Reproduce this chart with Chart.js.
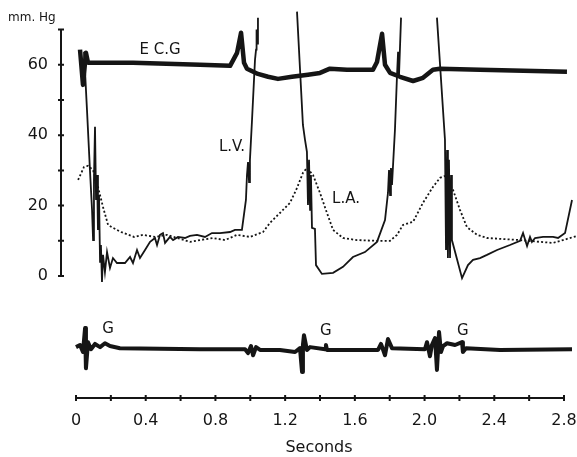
<!DOCTYPE html>
<html lang="en">
  <head>
    <meta charset="utf-8" />
    <title>Left heart pressures with ECG</title>
    <style>
      * {
        margin: 0;
        padding: 0;
      }
      body {
        background: white;
      }
    </style>
  </head>
  <body>
    <canvas id="myChart" width="577" height="457"></canvas>

    <script src="https://cdn.jsdelivr.net/npm/chart.js@4.4.1/dist/chart.umd.min.js"></script>

    <script>
      // time in seconds, pressure in mm Hg
      const ecgTime = [0.023, 0.040, 0.057, 0.069, 0.327, 0.711, 0.884, 0.924, 0.947, 0.964, 0.981, 1.044, 1.102, 1.159, 1.239, 1.331, 1.400, 1.457, 1.555, 1.704, 1.727, 1.756, 1.773, 1.802, 1.859, 1.934, 1.991, 2.048, 2.088, 2.318, 2.817];
      const ecgMmHg = [64.3, 54.3, 63.4, 60.6, 60.6, 60.0, 59.7, 63.4, 69.1, 60.6, 58.9, 57.4, 56.6, 56.0, 56.6, 57.2, 57.7, 58.9, 58.6, 58.6, 60.8, 68.8, 60.0, 57.7, 56.6, 55.4, 56.3, 58.6, 58.9, 58.6, 58.0];

      const lvTime = [
        0.046, 0.063, 0.080, 0.092, 0.098, 0.103, 0.109, 0.115, 0.121, 0.126, 0.132, 0.138, 0.143, 0.149, 0.155, 0.166, 0.178, 0.195, 0.212, 0.235, 0.281, 0.310, 0.327, 0.350, 0.367, 0.396, 0.425, 0.453, 0.465, 0.482, 0.499, 0.511, 0.539, 0.557, 0.585, 0.625, 0.654, 0.694, 0.740, 0.780, 0.826, 0.884, 0.912, 0.952, 0.975, 0.981, 0.987, 0.993, 0.998, 1.010, 1.027, 1.033, 1.036, 1.039, 1.044,
        1.150,
        1.268, 1.302, 1.314, 1.325, 1.331, 1.337, 1.343, 1.348, 1.354, 1.371, 1.377, 1.411, 1.475, 1.532, 1.589, 1.658, 1.727, 1.773, 1.790, 1.796, 1.802, 1.807, 1.813, 1.830, 1.842, 1.848, 1.853, 1.865,
        1.970,
        2.071, 2.117, 2.123, 2.129, 2.134, 2.140, 2.146, 2.152, 2.157, 2.215, 2.249, 2.278, 2.318, 2.358, 2.416, 2.490, 2.548, 2.565, 2.588, 2.605, 2.616, 2.634, 2.680, 2.737, 2.766, 2.806, 2.846,
      ];
      const lvMmHg = [
        63.7, 47.2, 30.1, 18.8, 10.2, 27.3, 42.4, 21.6, 28.7, 13.1, 23.0, 4.0, 8.8, -1.7, 6.0, 1.1, 6.8, 2.3, 5.1, 3.7, 3.7, 5.4, 3.7, 7.4, 5.1, 7.4, 9.7, 10.8, 8.8, 11.7, 12.2, 9.4, 11.1, 10.2, 11.1, 10.8, 11.4, 11.7, 11.1, 12.2, 12.2, 12.5, 13.1, 13.1, 21.6, 28.7, 32.4, 26.7, 33.0, 44.4, 61.4, 64.3, 70.0, 66.0, 73.4,
        null,
        75.1, 42.9, 38.7, 35.3, 20.2, 33.0, 18.8, 28.7, 13.7, 13.4, 3.1, 0.6, 0.9, 2.6, 5.4, 6.8, 9.7, 15.9, 23.6, 30.1, 23.0, 30.7, 25.9, 41.5, 57.2, 63.7, 56.6, 73.4,
        null,
        73.4, 38.7, 7.4, 35.8, 5.1, 33.0, 5.1, 28.7, 10.2, -0.6, 3.1, 4.6, 5.1, 6.0, 7.4, 8.8, 10.0, 12.2, 8.5, 11.1, 9.7, 10.8, 11.1, 11.1, 10.8, 12.2, 21.6,
      ];

      const laTime = [0.012, 0.046, 0.069, 0.098, 0.126, 0.155, 0.184, 0.212, 0.258, 0.333, 0.384, 0.453, 0.522, 0.580, 0.654, 0.711, 0.786, 0.855, 0.924, 0.998, 1.073, 1.113, 1.170, 1.228, 1.268, 1.302, 1.325, 1.360, 1.400, 1.440, 1.475, 1.532, 1.612, 1.727, 1.802, 1.842, 1.876, 1.934, 1.991, 2.048, 2.089, 2.117, 2.163, 2.203, 2.243, 2.301, 2.358, 2.450, 2.548, 2.662, 2.737, 2.794, 2.875];
      const laMmHg = [27.3, 31.0, 31.3, 30.1, 25.3, 19.6, 14.5, 13.7, 12.5, 11.1, 11.7, 11.1, 11.7, 10.8, 9.7, 10.2, 10.8, 10.2, 11.7, 11.1, 12.5, 15.1, 17.9, 20.8, 25.0, 29.3, 30.7, 28.7, 23.6, 17.9, 13.1, 10.8, 10.2, 10.0, 10.0, 11.7, 14.5, 15.4, 20.8, 25.3, 27.9, 28.4, 24.5, 18.8, 13.9, 11.7, 10.8, 10.5, 10.2, 9.7, 9.4, 10.2, 11.4];

      // galvanometer trace, drawn below the pressure scale
      const gTime = [0.000, 0.023, 0.040, 0.052, 0.057, 0.069, 0.086, 0.109, 0.138, 0.166, 0.195, 0.252, 0.711, 0.970, 0.987, 1.004, 1.016, 1.033, 1.056, 1.170, 1.257, 1.285, 1.297, 1.302, 1.308, 1.325, 1.343, 1.429, 1.434, 1.440, 1.733, 1.750, 1.773, 1.790, 1.813, 2.002, 2.014, 2.031, 2.042, 2.060, 2.071, 2.083, 2.094, 2.106, 2.129, 2.175, 2.215, 2.220, 2.238, 2.433, 2.846];
      const gTrace = [-20.2, -19.6, -21.6, -14.8, -26.2, -18.8, -20.8, -19.3, -20.2, -19.1, -19.9, -20.5, -20.8, -20.8, -21.9, -19.9, -22.5, -20.2, -21.0, -21.0, -21.6, -20.5, -27.3, -19.6, -16.8, -21.0, -20.2, -20.8, -19.6, -21.0, -21.0, -19.3, -22.5, -17.9, -20.5, -20.8, -18.8, -22.8, -19.6, -17.6, -26.7, -15.9, -21.6, -19.9, -19.1, -19.6, -18.8, -21.6, -20.5, -21.0, -20.8];

      const xTickLabels = [0, 0.4, 0.8, 1.2, 1.6, 2.0, 2.4, 2.8];
      const xMinorTicks = [0, 0.2, 0.4, 0.6, 0.8, 1.0, 1.2, 1.4, 1.6, 1.8, 2.0, 2.2, 2.4, 2.6, 2.8];
      const yTickLabels = [0, 20, 40, 60];
      const yMinorTicks = [0, 10, 20, 30, 40, 50, 60, 70];

      const traceLabels = [
        { text: "E C.G", t: 0.482, v: 64.3 },
        { text: "L.V.", t: 0.895, v: 36.7 },
        { text: "L.A.", t: 1.549, v: 21.9 },
        { text: "G", t: 0.184, v: -15.1 },
        { text: "G", t: 1.434, v: -15.6 },
        { text: "G", t: 2.22, v: -15.6 },
      ];

      const toPoints = (times, values) =>
        times.map((t, i) => ({ x: t, y: values[i] }));

      const ink = "#151515";
      const font = "DejaVu Sans";

      const data = {
        datasets: [
          {
            label: "ECG",
            data: toPoints(ecgTime, ecgMmHg),
            borderColor: ink,
            borderWidth: 4.5,
            borderJoinStyle: "round",
          },
          {
            label: "L.V.",
            data: toPoints(lvTime, lvMmHg),
            borderColor: ink,
            borderWidth: 1.8,
          },
          {
            label: "L.A.",
            data: toPoints(laTime, laMmHg),
            borderColor: ink,
            borderWidth: 1.8,
            borderDash: [2, 2.2],
          },
          {
            label: "G",
            data: toPoints(gTime, gTrace),
            borderColor: ink,
            borderWidth: 4,
            borderJoinStyle: "round",
          },
        ],
      };

      const paperAxes = {
        id: "paperAxes",
        beforeDatasetsDraw(chart) {
          const { ctx, scales } = chart;
          const { x, y } = scales;
          const yAxisX = chart.chartArea.left;
          const xAxisY = chart.chartArea.bottom;
          ctx.save();
          ctx.strokeStyle = ink;
          ctx.lineWidth = 2;
          ctx.beginPath();
          ctx.moveTo(yAxisX, y.getPixelForValue(0));
          ctx.lineTo(yAxisX, y.getPixelForValue(70));
          yMinorTicks.forEach((v) => {
            const py = y.getPixelForValue(v);
            ctx.moveTo(yAxisX - 3, py);
            ctx.lineTo(yAxisX + 3, py);
          });
          ctx.moveTo(x.getPixelForValue(0), xAxisY - 1);
          ctx.lineTo(x.getPixelForValue(2.8), xAxisY - 1);
          xMinorTicks.forEach((t) => {
            const px = x.getPixelForValue(t);
            ctx.moveTo(px, xAxisY - 4);
            ctx.lineTo(px, xAxisY + 2);
          });
          ctx.stroke();

          ctx.fillStyle = ink;
          ctx.font = "12px " + font;
          ctx.textAlign = "left";
          ctx.textBaseline = "middle";
          ctx.fillText("mm. Hg", 8, 18);

          ctx.font = "15px " + font;
          ctx.textAlign = "center";
          traceLabels.forEach((l) => {
            ctx.fillText(l.text, x.getPixelForValue(l.t), y.getPixelForValue(l.v));
          });
          ctx.restore();
        },
      };

      const config = {
        type: "line",
        data: data,
        options: {
          responsive: false,
          animation: false,
          layout: { padding: 0 },
          elements: {
            point: { radius: 0 },
            line: { tension: 0, borderCapStyle: "butt" },
          },
          scales: {
            x: {
              type: "linear",
              min: -0.0861,
              max: 2.8746,
              afterBuildTicks: (scale) => {
                scale.ticks = xTickLabels.map((value) => ({ value }));
              },
              afterFit: (scale) => {
                scale.height = 58;
                scale.paddingLeft = 0;
                scale.paddingRight = 0;
              },
              grid: { display: false, drawTicks: false },
              border: { display: false },
              ticks: {
                autoSkip: false,
                maxRotation: 0,
                padding: 12,
                color: ink,
                font: { family: font, size: 16 },
                callback: (v) => (v === 0 ? "0" : v.toFixed(1)),
              },
              title: {
                display: true,
                text: "Seconds",
                color: ink,
                font: { family: font, size: 16 },
                padding: { top: 0, bottom: 0 },
              },
            },
            y: {
              min: -34.94,
              max: 78.41,
              afterBuildTicks: (scale) => {
                scale.ticks = yTickLabels.map((value) => ({ value }));
              },
              afterFit: (scale) => {
                scale.width = 61;
                scale.paddingTop = 0;
                scale.paddingBottom = 0;
              },
              grid: { display: false, drawTicks: false },
              border: { display: false },
              ticks: {
                padding: 13,
                color: ink,
                font: { family: font, size: 16 },
              },
            },
          },
          plugins: {
            legend: { display: false },
            tooltip: { enabled: false },
          },
        },
        plugins: [paperAxes],
      };

      const myChart = new Chart(document.getElementById("myChart"), config);
    </script>
  </body>
</html>
